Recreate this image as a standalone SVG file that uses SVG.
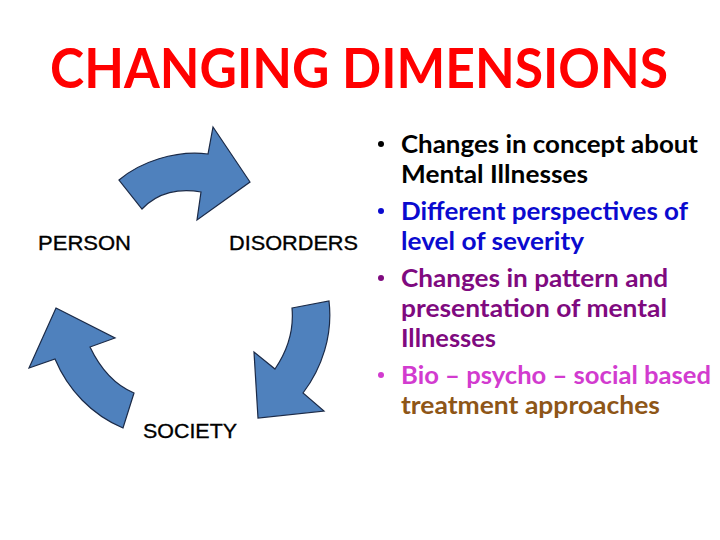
<svg xmlns="http://www.w3.org/2000/svg" width="720" height="540" viewBox="0 0 720 540">
<style>
.arrow{fill:#4F81BD;stroke:#1B2A47;stroke-width:1.2;stroke-linejoin:miter}
.lbl{font-family:"Liberation Sans",Arial,sans-serif;font-size:21px;fill:#000;stroke:#000;stroke-width:0.35}
.b{font-family:Lato,"Open Sans",sans-serif;font-weight:bold;font-size:24.5px}
</style>
<rect width="720" height="540" fill="#fff"/>
<text x="50" y="88" font-family="Lato,'Open Sans',sans-serif" font-weight="bold" font-size="56" fill="#FF0000" textLength="618" lengthAdjust="spacingAndGlyphs">CHANGING DIMENSIONS</text>
<g id="connectors">
<path class="arrow" d="M119,180 C140,162 175,150 208,154 L213,127 L250,182 L197,220 L201,192 C180,188 158,192 142,209 Z"/>
<path class="arrow" d="M292,308 L329,301 C333,335 322,368 303,393 L324,411 L258,418 L254,352 L275,369 C288,350 294,330 292,308 Z"/>
<path class="arrow" d="M56,308 L115,338 L90,347 C100,368 115,385 134,393 L123,428 C92,415 68,390 55,359 L29,368 Z"/>
</g>
<g id="person"><text class="lbl" x="38" y="250" textLength="93" lengthAdjust="spacingAndGlyphs">PERSON</text></g>
<g id="disorders"><text class="lbl" x="229" y="250" textLength="129" lengthAdjust="spacingAndGlyphs">DISORDERS</text></g>
<g id="society"><text class="lbl" x="143" y="438" textLength="94" lengthAdjust="spacingAndGlyphs">SOCIETY</text></g>
<g id="bullets" class="b">
<circle cx="381" cy="144" r="3" fill="#000"/>
<text x="401" y="153" fill="#000" textLength="297" lengthAdjust="spacingAndGlyphs">Changes in concept about</text>
<text x="401" y="183" fill="#000" textLength="187" lengthAdjust="spacingAndGlyphs">Mental Illnesses</text>
<circle cx="381" cy="211" r="3" fill="#0A0ACF"/>
<text x="401" y="220" fill="#0A0ACF" textLength="287" lengthAdjust="spacingAndGlyphs">Different perspectives of</text>
<text x="401" y="250" fill="#0A0ACF" textLength="183" lengthAdjust="spacingAndGlyphs">level of severity</text>
<circle cx="381" cy="278" r="3" fill="#7F0A7F"/>
<text x="401" y="287" fill="#7F0A7F" textLength="267" lengthAdjust="spacingAndGlyphs">Changes in pattern and</text>
<text x="401" y="317" fill="#7F0A7F" textLength="266" lengthAdjust="spacingAndGlyphs">presentation of mental</text>
<text x="401" y="347" fill="#7F0A7F" textLength="95" lengthAdjust="spacingAndGlyphs">Illnesses</text>
<circle cx="381" cy="375" r="3" fill="#D23BCF"/>
<text x="401" y="384" fill="#D23BCF" textLength="310" lengthAdjust="spacingAndGlyphs">Bio – psycho – social based</text>
<text x="401" y="414" fill="#8E5617" textLength="259" lengthAdjust="spacingAndGlyphs">treatment approaches</text>
</g>
</svg>
